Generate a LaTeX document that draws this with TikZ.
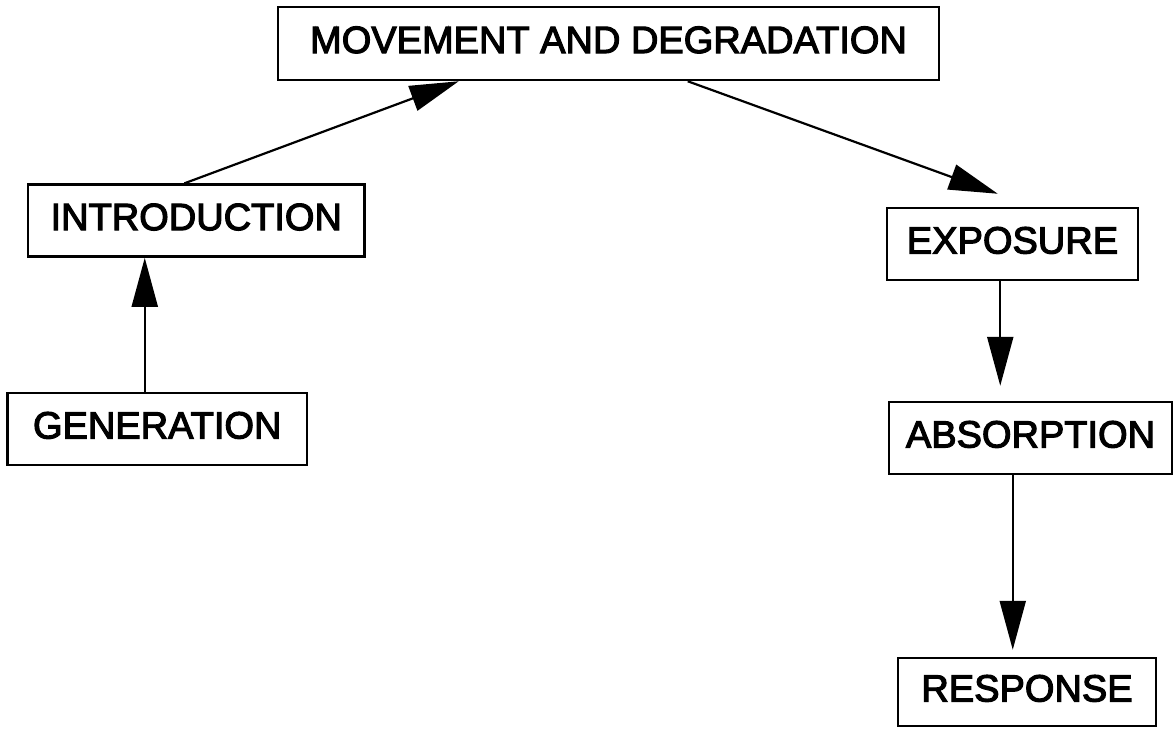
\documentclass[tikz,border=0pt]{standalone}
\usepackage{fontspec}
\setmainfont{Liberation Sans}[FakeBold=3]
\usetikzlibrary{arrows.meta}
\begin{document}
\begin{tikzpicture}[x=1pt,y=-1pt,
  box/.style={draw,line width=2.5pt,rectangle,inner sep=0pt,align=center,
    text height=27pt,text depth=8pt,
    font=\fontsize{38}{44}\selectfont},
  arr/.style={line width=2.2pt,-{Triangle[length=49pt,width=26pt]}}]
\useasboundingbox (0,0) rectangle (1174,729);
\node[box,minimum width=661pt,minimum height=73pt] (mov) at (608.5,43.5) {MOVEMENT AND DEGRADATION};
\node[box,minimum width=336.5pt,minimum height=72pt] (intro) at (196.25,220.6) {INTRODUCTION};
\node[box,minimum width=299.5pt,minimum height=72pt] (gen) at (157.25,429) {GENERATION};
\node[box,minimum width=251pt,minimum height=72pt] (expo) at (1012.5,244) {EXPOSURE};
\node[box,minimum width=283pt,minimum height=72pt] (abs) at (1030.5,438) {ABSORPTION};
\node[box,minimum width=258pt,minimum height=68pt] (resp) at (1027,692) {RESPONSE};
\draw[arr] ([xshift=138.5pt]gen.north west) -- ([xshift=118pt]intro.south west);
\draw[arr] ([xshift=157.6pt]intro.north west) -- ([xshift=182pt]mov.south west);
\draw[arr] ([xshift=411pt]mov.south west) -- ([xshift=112pt,yshift=13pt]expo.north west);
\draw[arr] ([xshift=114.5pt]expo.south west) -- ([xshift=112.5pt,yshift=15pt]abs.north west);
\draw[arr] ([xshift=125pt]abs.south west) -- ([xshift=116pt,yshift=7pt]resp.north west);
\end{tikzpicture}
\end{document}
